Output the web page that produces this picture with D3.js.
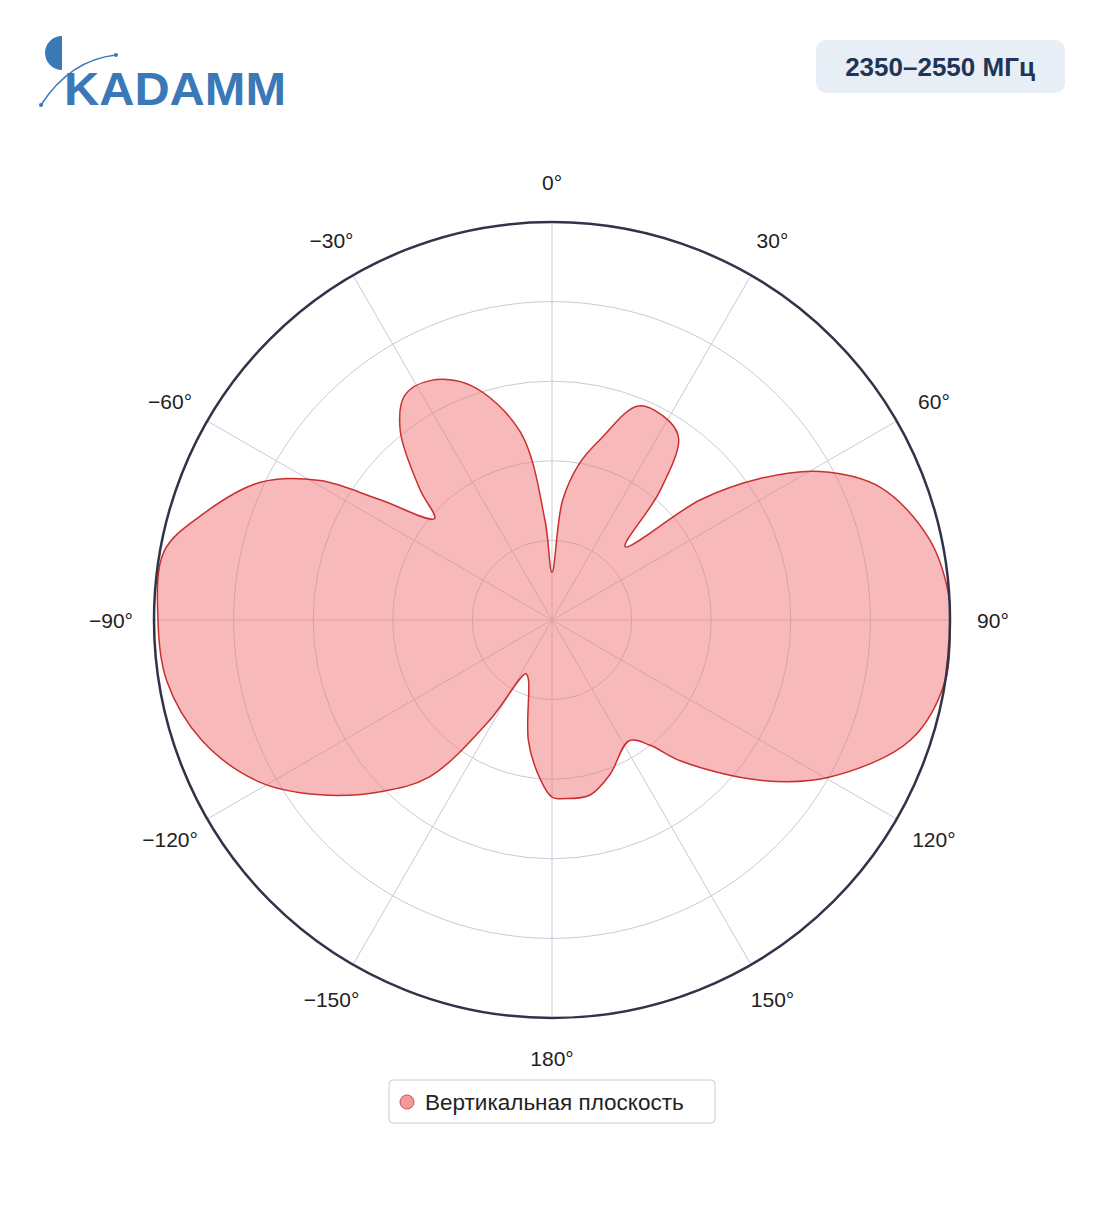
<!DOCTYPE html>
<html><head><meta charset="utf-8">
<script src="https://cdn.jsdelivr.net/npm/d3@7"></script>
<style>body{margin:0;background:#fff;font-family:Arial,"Liberation Sans",sans-serif}</style>
</head><body><svg id="c" width="1104" height="1211"></svg>
<script>
const angles = [0,5,10,15,22,30.5,35,40,45,51,55.7,61,68,78,87,90,98.7,108.5,119.6,127.6,137.6,141.9,147.4,159.5,167.7,175.8,180,184.3,191,201.8,206,212,218,225,233,241,251,261,270,280,286.6,295.3,301,304.9,310.8,314.6,321.3,326.8,333,340.8,350.4,356];
const values = [0.12,0.3,0.4,0.47,0.58,0.58,0.555,0.42,0.26,0.48,0.63,0.77,0.89,0.97,1.0,1.0,1.0,0.95,0.8,0.66,0.48,0.4,0.36,0.415,0.45,0.45,0.445,0.4,0.31,0.16,0.15,0.3,0.5,0.61,0.73,0.84,0.93,0.98,0.99,0.99,0.92,0.81,0.68,0.53,0.39,0.465,0.61,0.675,0.675,0.625,0.48,0.25];
const tickAngles = [0,30,60,90,120,150,180,-150,-120,-90,-60,-30];
const ringValues = [0.2,0.4,0.6,0.8];
const seriesName = "Вертикальная плоскость";
const bandLabel = "2350–2550 МГц";

const svg = d3.select("#c");
const cx=552, cy=620, R=398;
const r = d3.scaleLinear().domain([0,1]).range([0,R]);
const a = d3.scaleLinear().domain([0,360]).range([0,2*Math.PI]);
const g = svg.append("g").attr("transform",`translate(${cx},${cy})`);

g.selectAll("circle.ring").data(ringValues).join("circle").attr("r",d=>r(d)).attr("fill","none").attr("stroke","#c9cad8").attr("stroke-width",1);
g.selectAll("line.sp").data(tickAngles).join("line")
 .attr("x2",d=>R*Math.sin(a(d))).attr("y2",d=>-R*Math.cos(a(d))).attr("stroke","#c9cad8");

const line = d3.lineRadial().angle((d,i)=>a(angles[i])).radius(d=>r(d)).curve(d3.curveCatmullRomClosed.alpha(0.5));
g.append("path").attr("d",line(values)).attr("fill","rgba(239,120,120,0.52)").attr("stroke","#c8302f").attr("stroke-width",1.5);

g.append("circle").attr("r",R).attr("fill","none").attr("stroke","#2f3449").attr("stroke-width",2.5);

g.selectAll("text.tk").data(tickAngles).join("text")
 .attr("x",d=>(R+43)*Math.sin(a(d))).attr("y",d=>-(R+40)*Math.cos(a(d)))
 .attr("text-anchor","middle").attr("dominant-baseline","central").attr("font-size",21).attr("fill","#222")
 .text(d=>(d<0?"−"+(-d):d)+"°");

// legend
svg.append("rect").attr("x",389).attr("y",1080).attr("width",326).attr("height",43).attr("rx",4).attr("fill","#fff").attr("stroke","#ccc");
svg.append("circle").attr("cx",407).attr("cy",1102).attr("r",7).attr("fill","#f19a9a").attr("stroke","#c8302f").attr("stroke-width",0.8);
svg.append("text").attr("x",425).attr("y",1102).attr("dominant-baseline","central").attr("font-size",22.5).attr("fill","#222").text(seriesName);

// badge
svg.append("rect").attr("x",816).attr("y",40).attr("width",249).attr("height",53).attr("rx",10).attr("fill","#e8eef6");
svg.append("text").attr("x",940).attr("y",67).attr("text-anchor","middle").attr("dominant-baseline","central").attr("font-size",26).attr("font-weight","bold").attr("fill","#1f3556").text(bandLabel);

// logo
const lg = svg.append("g");
lg.append("path").attr("d","M62,36 A17,17 0 0 0 62,70 Z").attr("fill","#3b78b8");
lg.append("path").attr("d","M41,105 Q70,60 116,55").attr("fill","none").attr("stroke","#3b78b8").attr("stroke-width",1.5);
lg.append("circle").attr("cx",41).attr("cy",105).attr("r",2).attr("fill","#3b78b8");
lg.append("circle").attr("cx",116).attr("cy",55).attr("r",2).attr("fill","#3b78b8");
lg.append("text").attr("x",64).attr("y",105).attr("font-size",47).attr("font-weight","bold").attr("fill","#3b78b8").attr("textLength",222).attr("lengthAdjust","spacingAndGlyphs").text("KADAMM");
</script></body></html>
